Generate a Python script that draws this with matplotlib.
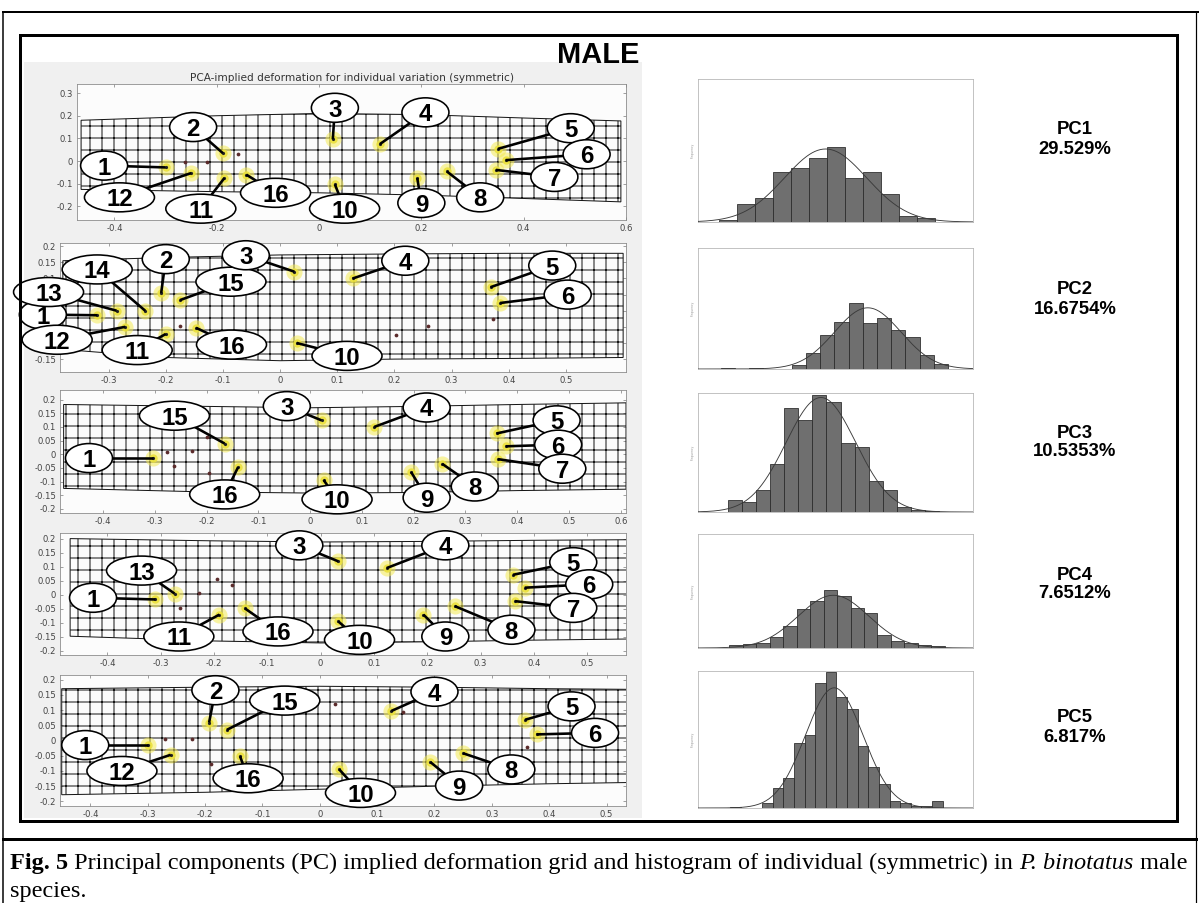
import numpy as np
import matplotlib.pyplot as plt
from matplotlib.patches import Rectangle, Polygon, Ellipse
from matplotlib.lines import Line2D
from matplotlib.transforms import ScaledTranslation

W, H = 1199, 903
DPI = 72

# ---- deformation grid panels: landmark ids, landmark positions, label bubble positions
p1_ids = [1, 2, 3, 4, 5, 6, 7, 8, 9, 10, 11, 12, 16]
p1_pts = [(-0.30, -0.028), (-0.188, 0.035), (0.027, 0.096), (0.119, 0.075), (0.35, 0.054),
          (0.365, 0.004), (0.346, -0.039), (0.25, -0.046), (0.192, -0.075), (0.031, -0.103),
          (-0.185, -0.075), (-0.25, -0.053), (-0.142, -0.06)]
p1_lbl = [(-0.42, -0.02), (-0.246, 0.15), (0.031, 0.235), (0.208, 0.215), (0.492, 0.145),
          (0.523, 0.03), (0.46, -0.07), (0.315, -0.16), (0.2, -0.185), (0.05, -0.21),
          (-0.231, -0.21), (-0.39, -0.16), (-0.085, -0.14)]
p1_dots = [(-0.262, -0.006), (-0.219, -0.006), (-0.158, 0.029)]

p2_ids = [1, 13, 14, 2, 15, 12, 11, 16, 3, 4, 5, 6, 10]
p2_pts = [(-0.32, -0.014), (-0.286, 0.0), (-0.236, 0.0), (-0.208, 0.055), (-0.175, 0.033),
          (-0.271, -0.05), (-0.20, -0.072), (-0.147, -0.053), (0.025, 0.121), (0.127, 0.10),
          (0.368, 0.073), (0.385, 0.024), (0.029, -0.10)]
p2_lbl = [(-0.415, -0.012), (-0.405, 0.058), (-0.32, 0.128), (-0.20, 0.16), (-0.086, 0.09),
          (-0.39, -0.09), (-0.25, -0.122), (-0.085, -0.105), (-0.06, 0.172), (0.219, 0.155),
          (0.476, 0.14), (0.503, 0.05), (0.117, -0.14)]
p2_dots = [(0.202, -0.076), (0.258, -0.046), (0.373, -0.026), (-0.175, -0.047)]

p3_ids = [1, 15, 16, 3, 4, 5, 6, 7, 8, 9, 10]
p3_pts = [(-0.303, -0.014), (-0.165, 0.039), (-0.139, -0.047), (0.022, 0.124), (0.124, 0.10),
          (0.36, 0.076), (0.378, 0.029), (0.363, -0.018), (0.255, -0.035), (0.195, -0.065),
          (0.026, -0.094)]
p3_lbl = [(-0.427, -0.014), (-0.262, 0.141), (-0.165, -0.147), (-0.045, 0.176), (0.225, 0.171),
          (0.476, 0.124), (0.479, 0.035), (0.487, -0.053), (0.318, -0.118), (0.225, -0.159),
          (0.052, -0.165)]
p3_dots = [(-0.277, 0.008), (-0.228, 0.012), (-0.262, -0.044), (-0.195, -0.067), (-0.199, 0.062)]

p4_ids = [1, 13, 11, 16, 3, 4, 5, 6, 7, 8, 9, 10]
p4_pts = [(-0.31, -0.017), (-0.274, 0.004), (-0.19, -0.071), (-0.142, -0.049), (0.033, 0.119),
          (0.124, 0.095), (0.361, 0.071), (0.383, 0.025), (0.365, -0.023), (0.252, -0.041),
          (0.193, -0.071), (0.033, -0.095)]
p4_lbl = [(-0.427, -0.011), (-0.336, 0.086), (-0.266, -0.149), (-0.08, -0.131), (-0.04, 0.176),
          (0.234, 0.176), (0.474, 0.116), (0.504, 0.037), (0.474, -0.047), (0.358, -0.125),
          (0.234, -0.149), (0.073, -0.161)]
p4_dots = [(-0.195, 0.055), (-0.166, 0.035), (-0.228, 0.007), (-0.263, -0.049)]

p5_ids = [1, 12, 2, 15, 16, 4, 5, 6, 8, 9, 10]
p5_pts = [(-0.30, -0.015), (-0.26, -0.047), (-0.193, 0.059), (-0.162, 0.035), (-0.139, -0.052),
          (0.125, 0.097), (0.358, 0.068), (0.378, 0.02), (0.25, -0.042), (0.193, -0.071),
          (0.034, -0.095)]
p5_lbl = [(-0.409, -0.015), (-0.345, -0.10), (-0.182, 0.165), (-0.061, 0.131), (-0.125, -0.124),
          (0.2, 0.16), (0.439, 0.112), (0.48, 0.025), (0.334, -0.095), (0.243, -0.148),
          (0.071, -0.172)]
p5_dots = [(0.027, 0.121), (-0.27, 0.006), (-0.223, 0.006), (-0.189, -0.076), (0.361, -0.021),
           (0.145, 0.092)]

# grid outlines (x samples, top edge, bottom edge)
g1 = ([-0.465, -0.2, 0.0, 0.2, 0.4, 0.59], [0.18, 0.2, 0.21, 0.205, 0.19, 0.177],
      [-0.125, -0.135, -0.14, -0.15, -0.165, -0.18])
g2 = ([-0.38, -0.2, 0.0, 0.2, 0.4, 0.6], [0.155, 0.165, 0.173, 0.176, 0.178, 0.178],
      [-0.12, -0.145, -0.155, -0.15, -0.148, -0.145])
g3 = ([-0.476, -0.2, 0.0, 0.2, 0.4, 0.61], [0.182, 0.175, 0.17, 0.175, 0.182, 0.188],
      [-0.125, -0.138, -0.142, -0.14, -0.133, -0.128])
g4 = ([-0.47, -0.2, 0.0, 0.2, 0.4, 0.575], [0.2, 0.192, 0.188, 0.19, 0.194, 0.196],
      [-0.148, -0.165, -0.172, -0.168, -0.162, -0.158])
g5 = ([-0.45, -0.2, 0.0, 0.2, 0.4, 0.535], [0.17, 0.175, 0.178, 0.175, 0.17, 0.168],
      [-0.178, -0.17, -0.16, -0.15, -0.142, -0.138])

# tick values
p1_xticks = [-0.4, -0.2, 0, 0.2, 0.4, 0.6]
p1_yticks = [-0.2, -0.1, 0, 0.1, 0.2, 0.3]
p2_xticks = [-0.3, -0.2, -0.1, 0, 0.1, 0.2, 0.3, 0.4, 0.5]
p2_yticks = [-0.15, -0.1, -0.05, 0, 0.05, 0.1, 0.15, 0.2]
p2_hidden = [-0.1, -0.05, 0, 0.05]   # tick labels covered by the bubbles
p3_xticks = [-0.4, -0.3, -0.2, -0.1, 0, 0.1, 0.2, 0.3, 0.4, 0.5, 0.6]
p45_xticks = [-0.4, -0.3, -0.2, -0.1, 0, 0.1, 0.2, 0.3, 0.4, 0.5]
p345_yticks = [-0.2, -0.15, -0.1, -0.05, 0, 0.05, 0.1, 0.15, 0.2]

# ---- histograms: first bin index and counts
h1_start, h1_counts = 0, [1, 9, 12, 25, 27, 32, 38, 22, 25, 14, 3, 2]
h2_start, h2_counts = -5, [1, 0, 0.5, 0, 0, 3, 12, 26, 36, 50, 35, 39, 30, 24, 11, 4]
h3_start, h3_counts = 0, [10, 9, 19, 41, 89, 79, 100, 94, 59, 56, 27, 19, 4, 2, 1]
h4_start, h4_counts = 0, [6, 7, 9, 19, 39, 68, 81, 100, 90, 69, 60, 23, 13, 8, 6, 3]
h5_start, h5_counts = -3, [0.5, 0, 0, 4, 15, 22, 48, 54, 92, 100, 82, 73, 46, 30, 18, 5, 4, 1.5, 1.5, 5]

pc_names = ['PC1', 'PC2', 'PC3', 'PC4', 'PC5']
pc_pct = ['29.529%', '16.6754%', '10.5353%', '7.6512%', '6.817%']


fig = plt.figure(figsize=(W / DPI, H / DPI), dpi=DPI)


def rect(l, t, r, b):
    return [l / W, 1 - b / H, (r - l) / W, (b - t) / H]


def fline(x0, y0, x1, y1, lw):
    fig.add_artist(Line2D([x0 / W, x1 / W], [1 - y0 / H, 1 - y1 / H], color='black',
                          lw=lw, transform=fig.transFigure))


def fmt(v, pos=None):
    return '%g' % round(v, 3)


# light gray background behind the grid panels
fig.add_artist(Rectangle((24 / W, 1 - 818 / H), (642 - 24) / W, (818 - 62) / H,
                         transform=fig.transFigure, fc='#f0f0f0', ec='none', zorder=-5))


def grid_panel(box, xlim, ylim, xticks, yticks, g, ids, pts, lbl, dots, hidden=()):
    ax = fig.add_axes(rect(*box))
    ax.set_xlim(xlim)
    ax.set_ylim(ylim)
    ax.set_facecolor('#fcfcfc')
    gx, gt, gb = g
    outline = np.column_stack([list(gx) + list(gx)[::-1], list(gt) + list(gb)[::-1]])
    ax.add_patch(Polygon(outline, closed=True, fill=False, hatch='+', ec='#151515',
                         lw=1.0, zorder=2))
    ax.set_xticks(xticks)
    ax.set_yticks(yticks)
    ax.set_yticklabels(['' if v in hidden else fmt(v) for v in yticks])
    ax.xaxis.set_major_formatter(fmt)
    ax.tick_params(direction='in', top=True, right=True, length=3, width=0.6,
                   labelsize=8.5, colors='#666666', labelcolor='#444444', pad=4)
    for s in ax.spines.values():
        s.set_color('#888888')
        s.set_linewidth(0.8)
    px = [p[0] for p in pts]
    py = [p[1] for p in pts]
    ax.scatter(px, py, s=260, color='#f3ea55', alpha=0.55, lw=0, zorder=3)
    ax.scatter(px, py, s=70, color='#ebe13c', alpha=0.9, lw=0, zorder=3)
    ax.scatter(px, py, s=10, color='#222222', lw=0, zorder=4)
    ax.scatter([d[0] for d in dots], [d[1] for d in dots], s=14, color='#5a2a2a', lw=0, zorder=3)
    for n, (x, y), (lx, ly) in zip(ids, pts, lbl):
        ax.plot([lx, x], [ly, y], color='black', lw=2.6, solid_capstyle='butt',
                clip_on=False, zorder=5)
        w = 47 if n < 10 else 70
        tr = fig.dpi_scale_trans + ScaledTranslation(lx, ly, ax.transData)
        ax.add_artist(Ellipse((0, 0), w / DPI, 29 / DPI, transform=tr, fc='white',
                              ec='black', lw=1.6, clip_on=False, zorder=6))
        ax.text(lx, ly, str(n), ha='center', va='center_baseline', fontsize=24,
                fontweight='bold', family='Liberation Sans', clip_on=False, zorder=7)
    return ax


ax1 = grid_panel((77, 84, 626, 220), (-0.473, 0.592), (-0.26, 0.34), p1_xticks, p1_yticks,
                 g1, p1_ids, p1_pts, p1_lbl, p1_dots)
ax1.set_title('PCA-implied deformation for individual variation (symmetric)', fontsize=10.5,
              color='#333333', pad=3)
grid_panel((60, 243, 626, 372), (-0.385, 0.605), (-0.19, 0.21), p2_xticks, p2_yticks,
           g2, p2_ids, p2_pts, p2_lbl, p2_dots, p2_hidden)
grid_panel((60, 390, 626, 513), (-0.483, 0.61), (-0.215, 0.235), p3_xticks, p345_yticks,
           g3, p3_ids, p3_pts, p3_lbl, p3_dots)
grid_panel((60, 533, 626, 655), (-0.489, 0.573), (-0.215, 0.22), p45_xticks, p345_yticks,
           g4, p4_ids, p4_pts, p4_lbl, p4_dots)
grid_panel((60, 675, 626, 806), (-0.453, 0.534), (-0.215, 0.215), p45_xticks, p345_yticks,
           g5, p5_ids, p5_pts, p5_lbl, p5_dots)


def hist_panel(box, start, counts, xlim, ymax):
    ax = fig.add_axes(rect(*box))
    k = np.arange(len(counts)) + start
    c = np.array(counts, dtype=float)
    ax.bar(k, c, width=1.0, align='edge', color='#6f6f6f', edgecolor='#2b2b2b', lw=0.8,
           zorder=2)
    # normal curve fitted to the histogram
    centers = k + 0.5
    n = c.sum()
    mu = (c * centers).sum() / n
    sd = np.sqrt((c * (centers - mu) ** 2).sum() / n)
    xs = np.linspace(xlim[0], xlim[1], 300)
    ax.plot(xs, n / (sd * np.sqrt(2 * np.pi)) * np.exp(-0.5 * ((xs - mu) / sd) ** 2),
            color='#3a3a3a', lw=0.9, zorder=3)
    ax.set_xlim(xlim)
    ax.set_ylim(0, ymax)
    ax.set_xticks([])
    ax.set_yticks([])
    for s in ax.spines.values():
        s.set_color('#b5b5b5')
        s.set_linewidth(0.8)
    ax.set_ylabel('Frequency', fontsize=3, color='#999999', labelpad=3)
    return ax


hist_panel((698, 79, 973, 222), h1_start, h1_counts, (-1.18, 14.1), 72)
hist_panel((698, 248, 973, 369), h2_start, h2_counts, (-6.6, 12.75), 92)
hist_panel((698, 393, 973, 512), h3_start, h3_counts, (-2.11, 17.4), 102)
hist_panel((698, 534, 973, 648), h4_start, h4_counts, (-2.33, 18.1), 198)
hist_panel((698, 671, 973, 808), h5_start, h5_counts, (-6.03, 19.85), 101)

pc_y = [130, 290, 433, 575, 718]
for name, pct, y in zip(pc_names, pc_pct, pc_y):
    fig.text(1075 / W, 1 - y / H, name, ha='center', va='center', fontsize=18.5,
             fontweight='bold', family='Liberation Sans')
    fig.text(1075 / W, 1 - (y + 19) / H, pct, ha='center', va='center', fontsize=18.5,
             fontweight='bold', family='Liberation Sans')

fig.text(598 / W, 1 - 55 / H, 'MALE', ha='center', va='center', fontsize=29,
         fontweight='bold', family='Liberation Sans')

# frames
fline(3, 12, 1199, 12, 2.0)
fline(3, 12, 3, 903, 1.5)
fline(1196, 12, 1196, 903, 1.2)
fline(20, 35, 1177, 35, 3.0)
fline(20, 821, 1177, 821, 3.0)
fline(20, 35, 20, 821, 3.0)
fline(1177, 35, 1177, 821, 3.0)
fline(3, 839, 1196, 839, 3.0)

# caption
renderer = fig.canvas.get_renderer()
runs = [('Fig. 5', 'normal', 'bold'),
        (' Principal components (PC) implied deformation grid and histogram of individual '
         '(symmetric) in ', 'normal', 'normal'),
        ('P. binotatus', 'italic', 'normal'),
        (' male', 'normal', 'normal')]
x = 10
for s, st, wt in runs:
    t = fig.text(x / W, 1 - 869 / H, s, fontsize=24.2, family='Liberation Serif', style=st,
                 weight=wt, va='baseline')
    x += t.get_window_extent(renderer).width
fig.text(10 / W, 1 - 897 / H, 'species.', fontsize=24.2, family='Liberation Serif',
         va='baseline')

fig.savefig('out.png', dpi=DPI)
